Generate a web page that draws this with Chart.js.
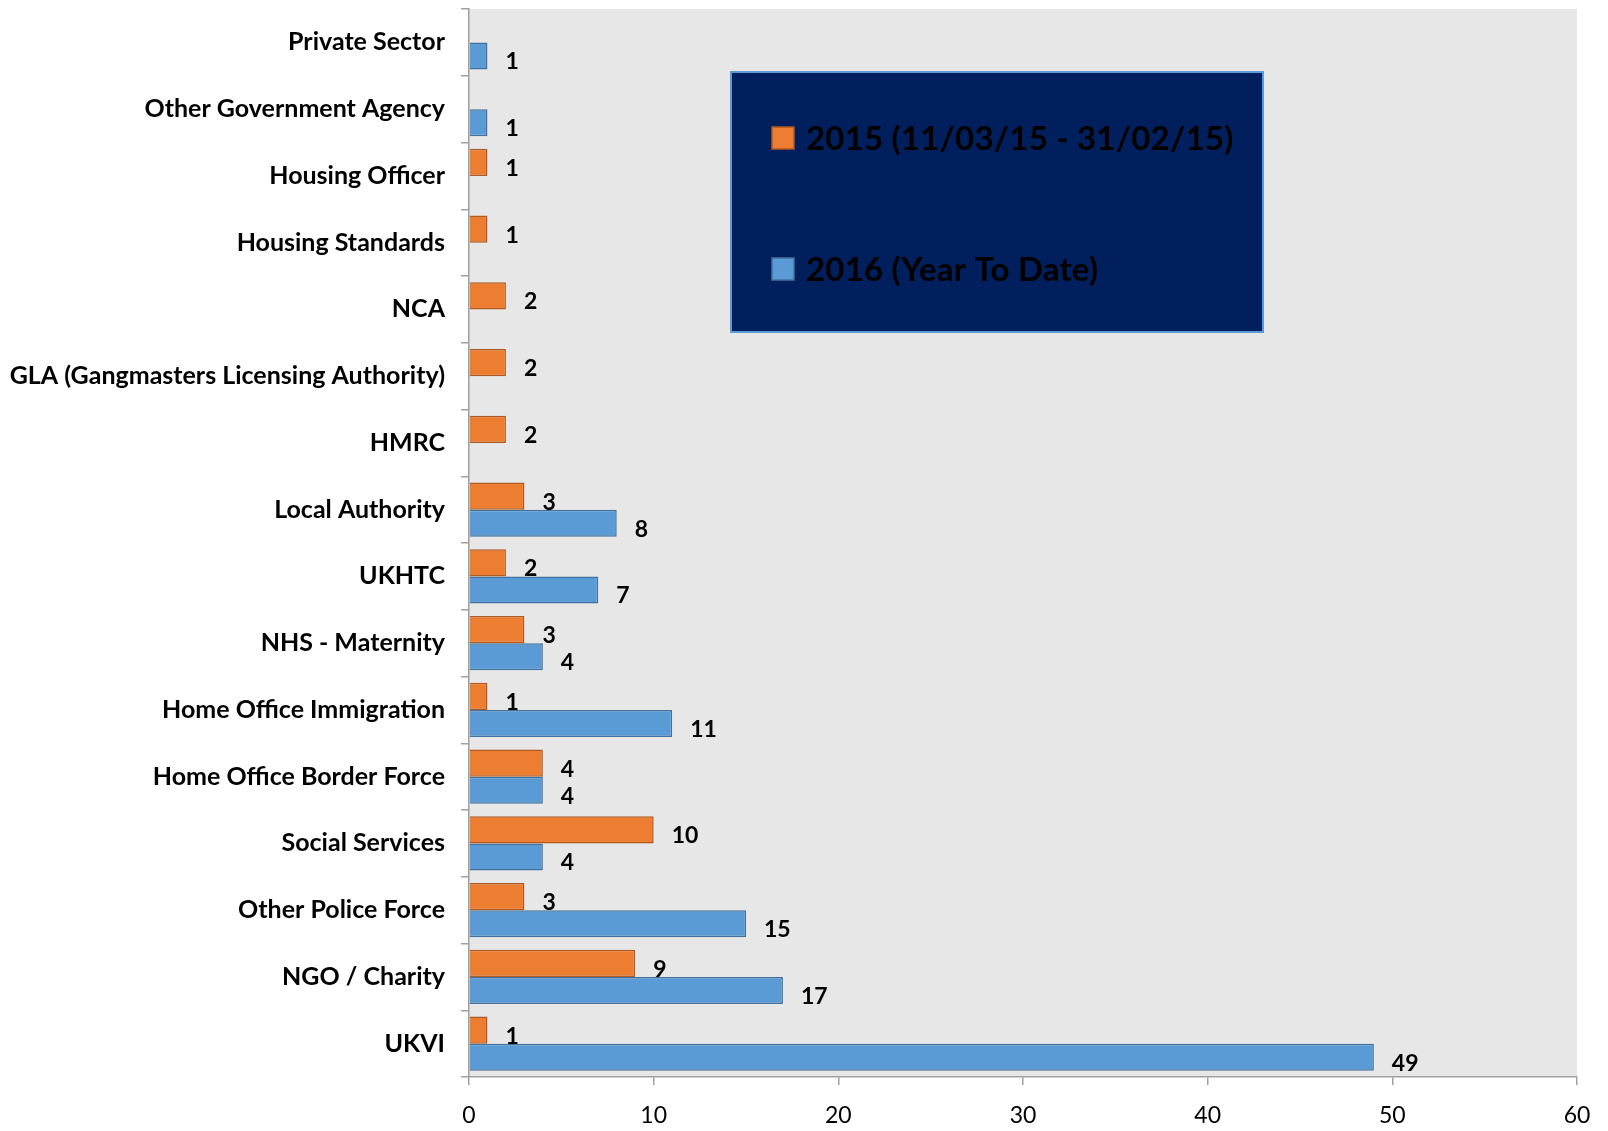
<!DOCTYPE html>
<html>
<head>
<meta charset="utf-8">
<script src="https://cdn.jsdelivr.net/npm/chart.js@4.4.1/dist/chart.umd.min.js"></script>
<style>
  html, body { margin: 0; padding: 0; background: #ffffff; }
  #wrap { width: 1608px; height: 1131px; }
</style>
</head>
<body>
<div id="wrap"><canvas id="chart"></canvas></div>
<script>
const categories = [
  'Private Sector', 'Other Government Agency', 'Housing Officer', 'Housing Standards',
  'NCA', 'GLA (Gangmasters Licensing Authority)', 'HMRC', 'Local Authority', 'UKHTC',
  'NHS - Maternity', 'Home Office Immigration', 'Home Office Border Force',
  'Social Services', 'Other Police Force', 'NGO / Charity', 'UKVI'
];
const values2015 = [null, null, 1, 1, 2, 2, 2, 3, 2, 3, 1, 4, 10, 3, 9, 1];
const values2016 = [1, 1, null, null, null, null, null, 8, 7, 4, 11, 4, 4, 15, 17, 49];
const seriesLabels = ['2015 (11/03/15 - 31/02/15)', '2016 (Year To Date)'];
const xTicks = [0, 10, 20, 30, 40, 50, 60];

const FONT = 'Lato, "Open Sans", sans-serif';

// grey plot area behind the bars
const plotBackground = {
  id: 'plotBackground',
  beforeDraw(chart) {
    const { ctx, chartArea: a } = chart;
    ctx.save();
    ctx.fillStyle = '#e7e7e7';
    ctx.fillRect(a.left, a.top, a.right - a.left, a.bottom - a.top);
    ctx.restore();
  }
};

// value labels to the right of each bar
const valueLabels = {
  id: 'valueLabels',
  afterDatasetsDraw(chart) {
    const ctx = chart.ctx;
    ctx.save();
    ctx.font = 'bold 23px ' + FONT;
    ctx.fillStyle = '#000000';
    ctx.textAlign = 'left';
    ctx.textBaseline = 'middle';
    chart.data.datasets.forEach((ds, i) => {
      chart.getDatasetMeta(i).data.forEach((bar, j) => {
        const v = ds.data[j];
        if (v === null || v === undefined) return;
        ctx.fillText(String(v), bar.x + 18, bar.y + 6);
      });
    });
    ctx.restore();
  }
};

// navy legend box drawn inside the plot
const boxLegend = {
  id: 'boxLegend',
  afterDatasetsDraw(chart) {
    const { ctx, chartArea: a } = chart;
    const x = a.left + 262, y = a.top + 63, w = 532, h = 260;
    ctx.save();
    ctx.fillStyle = '#001f5c';
    ctx.fillRect(x, y, w, h);
    ctx.strokeStyle = '#5b9bd5';
    ctx.lineWidth = 2;
    ctx.strokeRect(x, y, w, h);
    ctx.font = 'bold 33px ' + FONT;
    ctx.textBaseline = 'middle';
    ctx.textAlign = 'left';
    if ('letterSpacing' in ctx) ctx.letterSpacing = '0.2px';
    chart.data.datasets.forEach((ds, i) => {
      const cy = y + 66 + i * 131;
      ctx.fillStyle = ds.backgroundColor;
      ctx.fillRect(x + 41, cy - 11, 22, 22);
      ctx.strokeStyle = ds.borderColor;
      ctx.lineWidth = 1.5;
      ctx.strokeRect(x + 41, cy - 11, 22, 22);
      ctx.fillStyle = '#000000';
      ctx.fillText(ds.label, x + 75, cy + 1);
    });
    ctx.restore();
  }
};

new Chart(document.getElementById('chart'), {
  type: 'bar',
  data: {
    labels: categories,
    datasets: [
      {
        label: seriesLabels[0],
        data: values2015,
        backgroundColor: '#ed7d31',
        borderColor: '#ae5a21',
        borderWidth: 1.5,
        categoryPercentage: 0.81,
        barPercentage: 1
      },
      {
        label: seriesLabels[1],
        data: values2016,
        backgroundColor: '#5b9bd5',
        borderColor: '#41719c',
        borderWidth: 1.5,
        categoryPercentage: 0.81,
        barPercentage: 1
      }
    ]
  },
  options: {
    indexAxis: 'y',
    responsive: true,
    maintainAspectRatio: false,
    animation: false,
    layout: { padding: { top: 9, right: 31, left: 0, bottom: 0 } },
    plugins: {
      legend: { display: false },
      tooltip: { enabled: false }
    },
    scales: {
      x: {
        min: 0,
        max: 60,
        afterBuildTicks: (scale) => { scale.ticks = xTicks.map(v => ({ value: v })); },
        afterFit: (scale) => { scale.height = 54; },
        grid: { drawOnChartArea: false, drawTicks: true, tickLength: 8, color: '#a0a0a0', lineWidth: 1.5 },
        border: { display: true, color: '#a0a0a0', width: 1.5 },
        ticks: { color: '#000000', padding: 17, font: { family: FONT, size: 23 } }
      },
      y: {
        afterFit: (scale) => {
          scale.width = 469;
          scale.paddingTop = 0;
          scale.paddingBottom = 0;
        },
        grid: { drawOnChartArea: false, drawTicks: true, offset: true, tickLength: 8, color: '#a0a0a0', lineWidth: 1.5 },
        border: { display: true, color: '#a0a0a0', width: 1.5 },
        ticks: { color: '#000000', padding: 16, autoSkip: false, font: { family: FONT, size: 25, weight: 'bold' } }
      }
    }
  },
  plugins: [plotBackground, valueLabels, boxLegend]
});
</script>
</body>
</html>
